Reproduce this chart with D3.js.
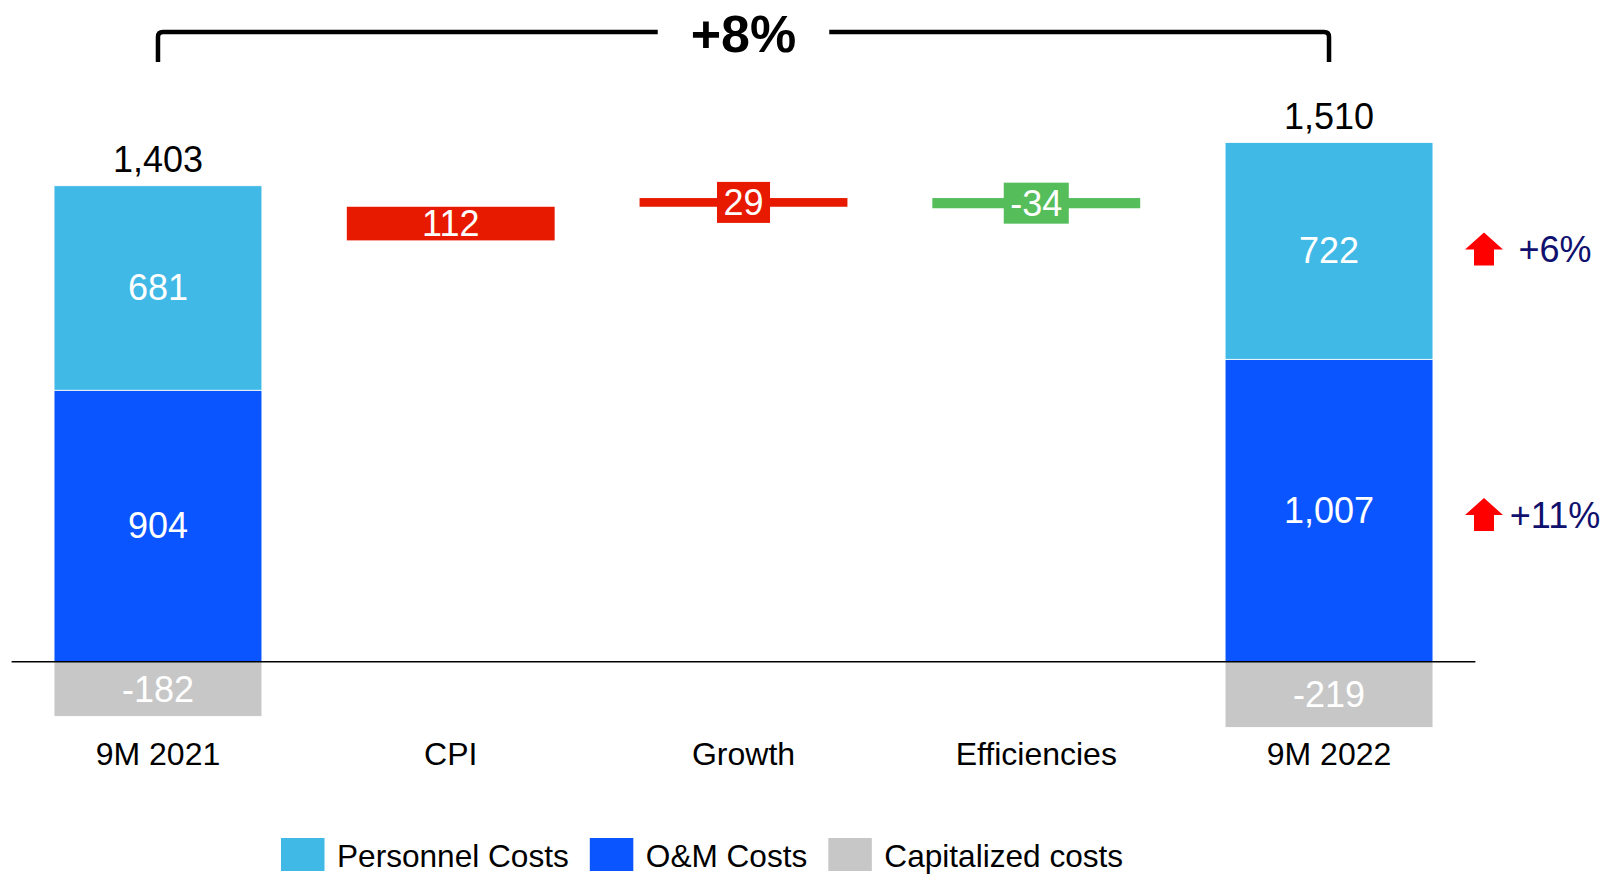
<!DOCTYPE html>
<html>
<head>
<meta charset="utf-8">
<script src="https://cdn.jsdelivr.net/npm/d3@7"></script>
<style>
  body { margin: 0; background: #fff; }
  svg { display: block; font-family: "Liberation Sans", Arial, sans-serif; }
</style>
</head>
<body>
<div id="chart"></div>
<script>
// data
const categories = ["9M 2021", "CPI", "Growth", "Efficiencies", "9M 2022"];
const personnelCosts = [681, null, null, null, 722];
const omCosts = [904, null, null, null, 1007];
const capitalizedCosts = [-182, null, null, null, -219];
const totals = [1403, null, null, null, 1510];
const deltas = [null, 112, 29, -34, null];
const changePct = ["+6%", "+11%"];   // personnel, O&M
const headline = "+8%";
const legendLabels = ["Personnel Costs", "O&M Costs", "Capitalized costs"];

(function () {

  const svg_width = 1606;
  const svg_height = 875;
  const colors = {
    personnel: "#41B9E6",
    om: "#0A55FF",
    capitalized: "#C7C7C7",
    up: "#E71A00",
    down: "#55BD5A",
    arrow: "#FF0000",
    pct: "#10106E"
  };
  // plain hyphen for negatives, like the source
  const fmt = d3.formatLocale({ decimal: ".", thousands: ",", grouping: [3], currency: ["", ""], minus: "-" }).format(",");

  const svg = d3.select("#chart").append("svg")
    .attr("width", svg_width)
    .attr("height", svg_height);

  // scales
  const x = d3.scaleBand()
    .domain(categories)
    .range([11.6, 1475.4])
    .paddingInner(0.29)
    .paddingOuter(0.145);
  const y = d3.scaleLinear()
    .domain([0, 1729])
    .range([661.7, 142.5]);
  const bw = x.bandwidth();
  const cx = c => x(c) + bw / 2;

  // stacked totals (first and last column)
  const stackIdx = [0, 4];
  stackIdx.forEach(function (i) {
    const c = categories[i];
    const segs = [
      { y0: 0, y1: omCosts[i], v: omCosts[i], col: colors.om },
      { y0: omCosts[i], y1: omCosts[i] + personnelCosts[i], v: personnelCosts[i], col: colors.personnel },
      { y0: capitalizedCosts[i], y1: 0, v: capitalizedCosts[i], col: colors.capitalized }
    ];
    const g = svg.append("g");
    g.selectAll("rect")
      .data(segs)
      .enter().append("rect")
      .attr("x", x(c))
      .attr("y", d => y(d.y1))
      .attr("width", bw)
      .attr("height", d => y(d.y0) - y(d.y1))
      .attr("fill", d => d.col)
      .attr("stroke", "#fff")
      .attr("stroke-width", 0.8);
    g.selectAll("text")
      .data(segs)
      .enter().append("text")
      .attr("x", cx(c))
      .attr("y", d => (y(d.y0) + y(d.y1)) / 2 + 12.5)
      .attr("text-anchor", "middle")
      .attr("fill", "#fff")
      .style("font-size", "36px")
      .text(d => fmt(d.v));
    // total above
    g.append("text")
      .attr("x", cx(c))
      .attr("y", y(omCosts[i] + personnelCosts[i]) - 14)
      .attr("text-anchor", "middle")
      .attr("fill", "#000")
      .style("font-size", "36px")
      .text(fmt(totals[i]));
  });

  // floating waterfall steps
  let running = totals[0];
  deltas.forEach(function (d, i) {
    if (d === null) return;
    const c = categories[i];
    const a = running, b = running + d;
    running = b;
    const top = y(Math.max(a, b)), bot = y(Math.min(a, b));
    const col = d >= 0 ? colors.up : colors.down;
    const mid = (top + bot) / 2;
    svg.append("rect")
      .attr("x", x(c))
      .attr("y", top)
      .attr("width", bw)
      .attr("height", bot - top)
      .attr("fill", col);
    const t = svg.append("text")
      .attr("x", cx(c))
      .attr("y", mid + 12.5)
      .attr("text-anchor", "middle")
      .attr("fill", "#fff")
      .style("font-size", "36px")
      .text(fmt(d));
    if (bot - top < 20) {
      // label does not fit: put it in a box over the thin bar
      const w = t.node().getComputedTextLength() + 13;
      svg.insert("rect", () => t.node())
        .attr("x", cx(c) - w / 2)
        .attr("y", mid - 20.5)
        .attr("width", w)
        .attr("height", 41)
        .attr("fill", col);
    }
  });

  // zero line
  svg.append("line")
    .attr("x1", x.range()[0])
    .attr("x2", x.range()[1])
    .attr("y1", y(0))
    .attr("y2", y(0))
    .attr("stroke", "#000")
    .attr("stroke-width", 1.6);

  // category axis
  const ax = svg.append("g")
    .attr("transform", "translate(0," + y(0) + ")")
    .call(d3.axisBottom(x).tickSize(0).tickPadding(81));
  ax.select(".domain").remove();
  ax.selectAll("text")
    .attr("fill", "#000")
    .style("font-size", "32px")
    .style("font-family", "'Liberation Sans', Arial, sans-serif");

  // headline bracket
  const hx = cx(categories[2]);
  const ht = svg.append("text")
    .attr("x", hx)
    .attr("y", 52)
    .attr("text-anchor", "middle")
    .style("font-size", "52px")
    .style("font-weight", "bold")
    .text(headline);
  const hw = ht.node().getComputedTextLength();
  const xl = cx(categories[0]), xr = cx(categories[4]);
  const by = 32, bb = 62, r = 5;
  svg.append("path")
    .attr("d", "M" + xl + "," + bb + "V" + (by + r) + "Q" + xl + "," + by + " " + (xl + r) + "," + by +
      "H" + (hx - hw / 2 - 33) +
      "M" + (hx + hw / 2 + 33) + "," + by + "H" + (xr - r) +
      "Q" + xr + "," + by + " " + xr + "," + (by + r) + "V" + bb)
    .attr("fill", "none")
    .attr("stroke", "#000")
    .attr("stroke-width", 4.5);

  // change arrows on the right
  const last = 4;
  const pctY = [
    (y(omCosts[last]) + y(omCosts[last] + personnelCosts[last])) / 2 - 2,
    (y(0) + y(omCosts[last])) / 2 + 4
  ];
  const arrowX = 1484;
  pctY.forEach(function (py, k) {
    const top = py - 16.5;
    svg.append("path")
      .attr("d", "M" + arrowX + "," + top +
        "L" + (arrowX + 19) + "," + (top + 17) +
        "H" + (arrowX + 10) + "V" + (top + 33) +
        "H" + (arrowX - 10) + "V" + (top + 17) +
        "H" + (arrowX - 19) + "Z")
      .attr("fill", colors.arrow);
    svg.append("text")
      .attr("x", 1555)
      .attr("y", py + 13)
      .attr("text-anchor", "middle")
      .attr("fill", colors.pct)
      .style("font-size", "36px")
      .text(changePct[k]);
  });

  // legend
  const legendColors = [colors.personnel, colors.om, colors.capitalized];
  let lx = 281;
  legendLabels.forEach(function (lab, k) {
    svg.append("rect")
      .attr("x", lx)
      .attr("y", 838)
      .attr("width", 43.5)
      .attr("height", 33)
      .attr("fill", legendColors[k]);
    const lt = svg.append("text")
      .attr("x", lx + 56)
      .attr("y", 867)
      .style("font-size", "31.6px")
      .attr("fill", "#000")
      .text(lab);
    lx += 56 + lt.node().getComputedTextLength() + 21;
  });

})();
</script>
</body>
</html>
